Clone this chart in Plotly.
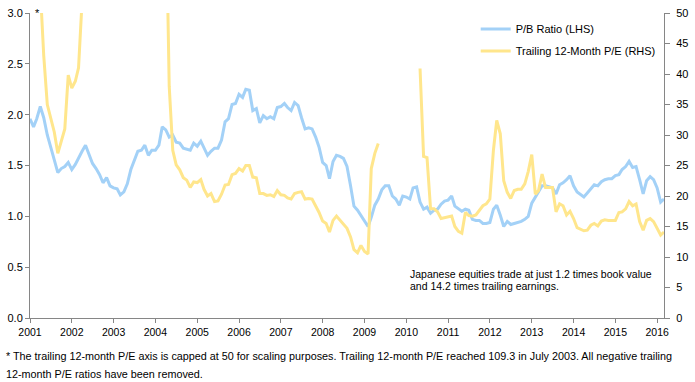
import pandas as pd
import plotly.graph_objects as go

start_month = "2001-01-01"
n_months = 183

pb_ratio = [
    1.96, 1.88, 1.96, 2.08, 1.97, 1.80, 1.68, 1.55, 1.43, 1.47, 1.49, 1.53,  # 2001
    1.46, 1.51, 1.58, 1.64, 1.70, 1.60, 1.52, 1.47, 1.41, 1.33, 1.38, 1.30,  # 2002
    1.28, 1.27, 1.21, 1.24, 1.32, 1.46, 1.54, 1.64, 1.65, 1.70, 1.60, 1.65,  # 2003
    1.65, 1.70, 1.88, 1.85, 1.78, 1.80, 1.73, 1.72, 1.67, 1.66, 1.65, 1.72,  # 2004
    1.69, 1.74, 1.68, 1.60, 1.64, 1.67, 1.67, 1.75, 1.93, 1.96, 2.10, 2.11,  # 2005
    2.20, 2.17, 2.25, 2.24, 2.04, 2.06, 1.92, 1.99, 1.96, 1.98, 1.96, 2.07,  # 2006
    2.08, 2.11, 2.07, 2.04, 2.12, 2.09, 1.97, 1.86, 1.87, 1.86, 1.78, 1.68,  # 2007
    1.53, 1.50, 1.37, 1.54, 1.60, 1.59, 1.57, 1.49, 1.30, 1.10, 1.06, 1.01,  # 2008
    0.95, 0.90, 0.99, 1.11, 1.17, 1.26, 1.30, 1.30, 1.20, 1.17, 1.11, 1.20,  # 2009
    1.19, 1.17, 1.28, 1.29, 1.14, 1.07, 1.09, 1.03, 1.06, 1.07, 1.12, 1.15,  # 2010
    1.16, 1.20, 1.10, 1.07, 1.05, 1.07, 1.06, 0.97, 0.96, 0.96, 0.93, 0.93,  # 2011
    0.94, 1.07, 1.11, 1.01, 0.90, 0.95, 0.92, 0.93, 0.94, 0.95, 0.97, 1.00,  # 2012
    1.13, 1.19, 1.25, 1.30, 1.30, 1.29, 1.28, 1.22, 1.31, 1.33, 1.36, 1.40,  # 2013
    1.30, 1.24, 1.22, 1.19, 1.23, 1.27, 1.31, 1.30, 1.34, 1.36, 1.37, 1.37,  # 2014
    1.40, 1.41, 1.46, 1.49, 1.54, 1.48, 1.49, 1.36, 1.22, 1.35, 1.39, 1.36,  # 2015
    1.28, 1.14, 1.17,                                                        # 2016
]

# Trailing 12-month P/E; None = negative values removed; values above 50 run off the capped axis
trailing_pe = [
    None, None, None, 54, 43, 35, 32.8, 30.5, 27.0, 29.1, 31.0, 39.8,        # 2001
    37.7, 38.8, 41.0, 52, 62, 70, 75, 80, 85, 90, 95, 100,                  # 2002
    100, 95, 100, 105, 108, 106, 109.3, 105, 95, 90, 85, 80,                # 2003
    75, 70, 65, 70, 38, 27.5, 25.1, 24.3, 23.0, 22.6, 21.4, 22.3,           # 2004
    22.2, 22.7, 21.1, 20.0, 20.4, 19.1, 19.2, 20.3, 21.8, 21.9, 23.5, 23.7,  # 2005
    24.5, 24.1, 25.0, 25.0, 23.1, 23.0, 20.4, 20.4, 20.1, 20.2, 19.9, 20.9,  # 2006
    20.2, 20.1, 19.7, 19.5, 20.4, 20.6, 20.7, 19.5, 19.6, 19.5, 18.4, 17.3,  # 2007
    15.9, 15.5, 14.1, 16.0, 16.7, 16.0, 15.5, 14.7, 13.3, 11.2, 10.7, 11.9,  # 2008
    10.9, 10.5, 24.5, 27.0, 28.6, None, None, None, None, None, None, None,  # 2009
    None, None, None, None, 40.9, 26.5, 26.3, 17.9, 17.9, 17.4, 16.3, 16.4,  # 2010
    16.5, 16.7, 15.0, 14.2, 13.9, 17.3, 16.8, 16.7, 16.9, 17.6, 18.4, 18.7,  # 2011
    19.5, 27.5, 32.4, 30.2, 22.5, 20.6, 19.6, 20.9, 21.1, 21.1, 22.0, 24.0,  # 2012
    26.8, 20.3, 20.9, 23.6, 21.4, 21.4, 21.4, 17.4, 18.7, 18.4, 16.9, 17.5,  # 2013
    16.3, 14.8, 14.6, 14.3, 14.4, 15.2, 15.5, 15.1, 15.9, 16.1, 16.0, 16.0,  # 2014
    16.0, 17.3, 17.4, 17.9, 19.1, 18.4, 18.7, 15.8, 14.4, 16.0, 16.3, 15.8,  # 2015
    14.7, 13.6, 14.1,                                                        # 2016
]

year_ticks = list(range(2001, 2017))
year_labels = [str(y) for y in year_ticks]

series_names = ["P/B Ratio (LHS)", "Trailing 12-Month P/E (RHS)"]
note_lines = ["Japanese equities trade at just 1.2 times book value",
              "and 14.2 times trailing earnings."]
footnote_lines = [
    "* The trailing 12-month P/E axis is capped at 50 for scaling purposes. "
    "Trailing 12-month P/E reached 109.3 in July 2003. All negative trailing",
    "12-month P/E ratios have been removed.",
]

dates = pd.date_range(start_month, periods=n_months, freq="MS")

BLUE = "#a3d1f7"
YELLOW = "#ffe68c"
AXIS = "#868686"
FONT = "Liberation Sans, Arial, sans-serif"

fig = go.Figure()
fig.add_trace(go.Scatter(x=dates, y=pb_ratio, name=series_names[0], mode="lines",
                         line=dict(color=BLUE, width=3), yaxis="y", legendgroup="a"))
fig.add_trace(go.Scatter(x=dates, y=trailing_pe, name=series_names[1], mode="lines",
                         line=dict(color=YELLOW, width=3), yaxis="y2", legendgroup="b",
                         connectgaps=False))

annotations = [
    dict(text="*", xref="paper", yref="paper", x=0.004, y=1.0, xanchor="left",
         yanchor="middle", showarrow=False, font=dict(size=11)),
]
for txt, yy in zip(note_lines, [0.1447, 0.104]):
    annotations.append(dict(text=txt, xref="paper", yref="paper", x=0.597, y=yy,
                            xanchor="left", yanchor="middle", align="left",
                            showarrow=False, font=dict(size=10.5)))
for txt, yy in zip(footnote_lines, [-0.1254, -0.1833]):
    annotations.append(dict(text=txt, xref="paper", yref="paper", x=-0.041, y=yy,
                            xanchor="left", yanchor="middle", align="left",
                            showarrow=False, font=dict(size=10.8)))

fig.update_layout(
    width=695, height=382,
    margin=dict(l=30, r=28, t=7, b=64),
    paper_bgcolor="white", plot_bgcolor="white",
    font=dict(family=FONT, size=11, color="#000000"),
    showlegend=True,
    legend=dict(x=0.703, y=0.995, xanchor="left", yanchor="top",
                bgcolor="rgba(0,0,0,0)", font=dict(size=11),
                traceorder="grouped", tracegroupgap=3, itemwidth=30),
    xaxis=dict(type="date", range=[dates[0], dates[-1]],
               tickvals=[pd.Timestamp(f"{y}-01-01") for y in year_ticks],
               ticktext=year_labels, ticks="outside", ticklen=4, tickcolor=AXIS,
               showline=True, linecolor=AXIS, linewidth=1, showgrid=False, zeroline=False,
               tickfont=dict(size=10.5)),
    yaxis=dict(range=[0, 3], dtick=0.5, tickformat=".1f", ticks="outside", ticklen=4,
               tickcolor=AXIS, showline=True, linecolor=AXIS, linewidth=1,
               showgrid=False, zeroline=False, tickfont=dict(size=11)),
    yaxis2=dict(range=[0, 50], dtick=5, overlaying="y", side="right", ticks="outside",
                ticklen=5, tickcolor=AXIS, showline=True, linecolor=AXIS, linewidth=1,
                showgrid=False, zeroline=False, tickfont=dict(size=11),
                ticklabelstandoff=4),
    annotations=annotations,
)

fig.write_html("out.html", config={"displayModeBar": False},
               post_script="document.body.style.margin='0px';")
